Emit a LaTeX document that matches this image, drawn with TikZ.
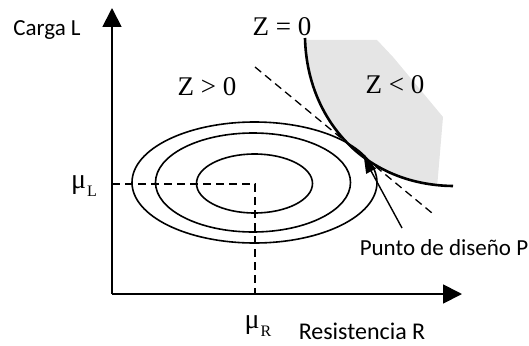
\documentclass[tikz,border=0pt]{standalone}
\usepackage{fontspec}
\setmainfont{Liberation Serif}
\newfontfamily\carlfont{Carlito}
\usetikzlibrary{arrows.meta}
\begin{document}
\begin{tikzpicture}[x=1pt,y=-1pt,
  axis/.style={line width=1.8pt,-{Triangle[length=19pt,width=19pt]}},
  guide/.style={line width=1.3pt,dash pattern=on 8pt off 5pt},
  contour/.style={line width=1.6pt},
  limit/.style={line width=2.6pt},
  pointer/.style={line width=1.4pt,-{Triangle[length=15pt,width=11pt]}},
  zlab/.style={font=\fontsize{27}{27}\selectfont,inner sep=0pt,anchor=base},
  mulab/.style={font=\fontsize{28}{28}\selectfont,inner sep=0pt,anchor=base},
  sanslab/.style={font=\carlfont\fontsize{23}{23}\selectfont,inner sep=0pt,anchor=base}]
\useasboundingbox (0,0) rectangle (529,345);

% shaded failure region
\begin{scope}
  \clip (305,38) .. controls (307,120) and (365,185) .. (453,186) -- (475,186) -- (475,30) -- (305,30) -- cycle;
  \fill[gray!20] (300,40) -- (377,40) -- (393,57) -- (443,117) -- (437,188) -- (300,188) -- cycle;
\end{scope}

% coordinates
\coordinate (O) at (112,294);
\coordinate (Ytip) at (112,8);
\coordinate (Xtip) at (462,294);
\coordinate (M) at (255,184);
\coordinate (ML) at (112,184);
\coordinate (MR) at (255,294);
\coordinate (T1) at (255,67);
\coordinate (T2) at (432,213);
\coordinate (P) at (364,158);
\coordinate (Ptail) at (402,228);
\coordinate (Zs) at (305,38);
\coordinate (Ze) at (453,186);

% guides
\draw[guide] (ML) -- (M) -- (MR);
\draw[guide] (T1) -- (T2);

% contours
\draw[contour] (254.5,183.5) ellipse [x radius=58pt, y radius=29.5pt];
\draw[contour] (253,182.5) ellipse [x radius=97.5pt, y radius=49.5pt];
\draw[contour] (254.5,182.5) ellipse [x radius=122.5pt, y radius=60.5pt];

% limit state
\draw[limit] (Zs) .. controls (307,120) and (365,185) .. (Ze);

% axes
\draw[axis] (O) -- (Ytip);
\draw[axis] (O) -- (Xtip);

% design point arrow
\draw[pointer] (Ptail) -- (P);

% labels
\node[zlab] (z0) at (282,35) {Z = 0};
\node[zlab] (zneg) at (395,93) {Z < 0};
\node[zlab] (zpos) at (207,95) {Z > 0};
\node[mulab] (muL) at (84,188) {μ\kern1pt\raisebox{-8pt}{\fontsize{16}{16}\selectfont L}};
\node[mulab] (muR) at (258,328) {μ\kern1pt\raisebox{-8pt}{\fontsize{16}{16}\selectfont R}};
\node[sanslab] (carga) at (47,35) {Carga L};
\node[sanslab,font=\carlfont\fontsize{24}{24}\selectfont] (resis) at (362,339) {Resistencia R};
\node[sanslab] (punto) at (444,255) {Punto de diseño P};
\end{tikzpicture}
\end{document}
